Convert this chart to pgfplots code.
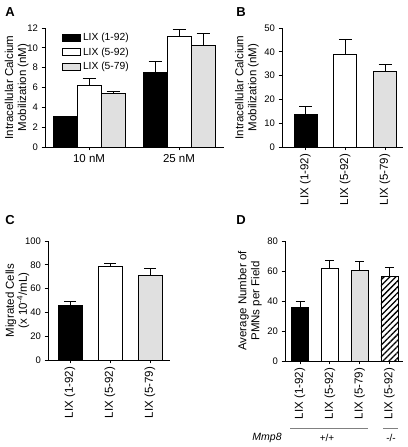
\documentclass[border=0pt]{standalone}
\usepackage{pgfplots}
\pgfplotsset{compat=1.18}
\usetikzlibrary{patterns.meta}
\usepackage{fontspec}
\setmainfont{Liberation Sans}
\definecolor{lgray}{RGB}{224,224,224}
\pgfplotsset{
  panel/.style={
    scale only axis,
    axis lines=left,
    axis line style={-, line width=0.8bp},
    tick align=outside,
    major tick length=3.5bp,
    tick style={line width=0.8bp, black},
    /pgf/number format/assume math mode=true,
    yticklabel style={font=\fontsize{9.5bp}{11bp}\selectfont},
    xticklabel style={font=\fontsize{11.5bp}{13bp}\selectfont},
    label style={font=\fontsize{11.5bp}{13bp}\selectfont, align=center},
    ymin=0,
    error bars/y dir=plus,
    error bars/y explicit,
    error bars/error bar style={line width=0.8bp, black},
    clip=false,
  },
  bstyle/.style={ybar, bar shift=0pt, draw=black, line width=0.8bp},
}
\begin{document}
\begin{tikzpicture}[x=1bp,y=1bp]
\path[use as bounding box] (0,0) rectangle (407,447);
% Panel letters
\node[font=\fontsize{13bp}{15bp}\selectfont\bfseries] at (10,435) {A};
\node[font=\fontsize{13bp}{15bp}\selectfont\bfseries] at (241,435) {B};
\node[font=\fontsize{13bp}{15bp}\selectfont\bfseries] at (10,227) {C};
\node[font=\fontsize{13bp}{15bp}\selectfont\bfseries] at (241,227) {D};

% Panel A
\begin{axis}[panel, at={(45bp,300bp)}, anchor=south west,
  width=179bp, height=119bp,
  xmin=-0.489, xmax=1.5, ymax=12,
  ytick={0,2,...,12},
  xtick={0,1}, xticklabels={10 nM, 25 nM},
  bar width=0.2667,
  error bars/error mark options={line width=0.8bp, black, mark size=6.5bp, rotate=90},
  ylabel={Intracellular Calcium\\Mobilization (nM)},
  ylabel style={at={(axis description cs:-0.159,0.5)}, anchor=center},
  legend style={at={(axis description cs:0.095,0.975)}, anchor=north west, draw=none, fill=none,
    font=\fontsize{10.3bp}{12bp}\selectfont, row sep=1.5bp, inner sep=0pt,
    nodes={inner xsep=2bp}},
  legend cell align=left,
  legend image code/.code={\draw[#1, line width=0.8bp] (0bp,-3.5bp) rectangle (18bp,3.5bp);},
]
\addplot[bstyle, fill=black] coordinates {(-0.2667,3.06) +- (0,0.05) (0.7333,7.5) +- (0,1.1)};
\addplot[bstyle, fill=white] coordinates {(0,6.2) +- (0,0.72) (1,11.2) +- (0,0.65)};
\addplot[bstyle, fill=lgray] coordinates {(0.2667,5.41) +- (0,0.17) (1.2667,10.2) +- (0,1.25)};
\legend{LIX (1-92), LIX (5-92), LIX (5-79)}
\end{axis}

% Panel B
\begin{axis}[panel, at={(282bp,300bp)}, anchor=south west,
  width=121bp, height=119bp,
  xmin=-0.591, xmax=2.453, ymax=50,
  ytick={0,10,...,50},
  xtick={0,1,2}, xticklabels={LIX (1-92), LIX (5-92), LIX (5-79)},
  xticklabel style={rotate=90, anchor=east},
  bar width=0.579,
  error bars/error mark options={line width=0.8bp, black, mark size=6.5bp, rotate=90},
  ylabel={Intracellular Calcium\\Mobilization (nM)},
  ylabel style={at={(axis description cs:-0.29,0.5)}, anchor=center},
]
\addplot[bstyle, fill=black] coordinates {(0,13.9) +- (0,3.0)};
\addplot[bstyle, fill=white] coordinates {(1,38.9) +- (0,6.3)};
\addplot[bstyle, fill=lgray] coordinates {(2,31.9) +- (0,2.8)};
\end{axis}

% Panel C
\begin{axis}[panel, at={(48bp,87bp)}, anchor=south west,
  width=122bp, height=119bp,
  xmin=-0.55, xmax=2.5, ymax=100,
  ytick={0,20,...,100},
  xtick={0,1,2}, xticklabels={LIX (1-92), LIX (5-92), LIX (5-79)},
  xticklabel style={rotate=90, anchor=east},
  bar width=0.6,
  error bars/error mark options={line width=0.8bp, black, mark size=6bp, rotate=90},
  ylabel={Migrated Cells\\(x 10\textsuperscript{-4}/mL)},
  ylabel style={at={(axis description cs:-0.25,0.5)}, anchor=center},
]
\addplot[bstyle, fill=black] coordinates {(0,46.2) +- (0,2.8)};
\addplot[bstyle, fill=white] coordinates {(1,78.4) +- (0,2.8)};
\addplot[bstyle, fill=lgray] coordinates {(2,71.4) +- (0,5.6)};
\end{axis}

% Panel D
\begin{axis}[panel, at={(285bp,86bp)}, anchor=south west,
  width=118bp, height=120bp,
  xmin=-0.503, xmax=3.456, ymax=80,
  ytick={0,20,...,80},
  xtick={0,1,2,3}, xticklabels={LIX (1-92), LIX (5-92), LIX (5-79), LIX (5-92)},
  xticklabel style={rotate=90, anchor=east},
  bar width=0.57,
  error bars/error mark options={line width=0.8bp, black, mark size=4.5bp, rotate=90},
  ylabel={Average Number of\\PMNs per Field},
  ylabel style={at={(axis description cs:-0.297,0.5)}, anchor=center},
]
\addplot[bstyle, fill=black] coordinates {(0,36.0) +- (0,3.5)};
\addplot[bstyle, fill=white] coordinates {(1,61.8) +- (0,5.3)};
\addplot[bstyle, fill=lgray] coordinates {(2,60.7) +- (0,5.5)};
\addplot[bstyle, fill=white, postaction={pattern={Lines[angle=45,distance=4.2bp,line width=1.3bp]}}] coordinates {(3,56.5) +- (0,5.9)};
\end{axis}

% Genotype annotation
\draw[gray, line width=1bp] (290,18) -- (368,18);
\draw[gray, line width=1bp] (383,18) -- (398,18);
\node[font=\fontsize{10.5bp}{12bp}\selectfont\itshape] at (267,9) {Mmp8};
\node[font=\fontsize{10bp}{12bp}\selectfont] at (327,9) {+/+};
\node[font=\fontsize{10bp}{12bp}\selectfont] at (391,9) {-/-};
\end{tikzpicture}
\end{document}
